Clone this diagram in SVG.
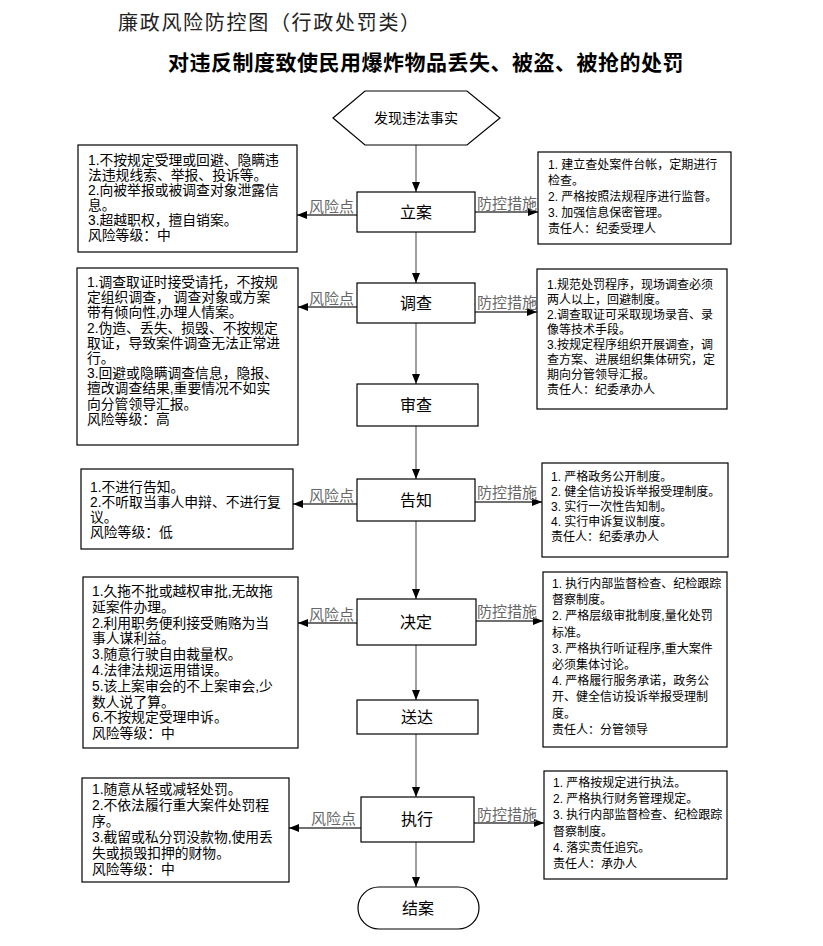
<svg xmlns="http://www.w3.org/2000/svg" width="823" height="946" viewBox="0 0 823 946">
<style>
text{font-family:"Noto Sans CJK SC","Liberation Sans",sans-serif;}
.t1{font-size:20px;fill:#222;letter-spacing:1.7px;}
.t2{font-size:21px;font-weight:bold;fill:#000;letter-spacing:0.5px;}
.lb{font-family:"Liberation Sans","Noto Sans CJK SC",sans-serif;font-size:13.8px;fill:#000;}
.rb{font-family:"Liberation Sans","Noto Sans CJK SC",sans-serif;font-size:12px;fill:#000;}
.nd{font-size:16px;fill:#000;text-anchor:middle;}
.lab{font-family:"Liberation Sans","Noto Sans CJK SC",sans-serif;font-size:15px;fill:#666;}
.box{fill:#fff;stroke:#000;stroke-width:1.2;}
.v{stroke:#7f7f7f;stroke-width:1.5;fill:none;}
.h{stroke:#404040;stroke-width:1.5;fill:none;}
</style>
<defs>
<marker id="ar" markerUnits="userSpaceOnUse" markerWidth="10" markerHeight="8" refX="10" refY="4" orient="auto">
<path d="M0,0 L10,4 L0,8 z" fill="#000"/>
</marker>
</defs>
<rect width="823" height="946" fill="#fff"/>
<text class="t1" x="118" y="30">廉政风险防控图（行政处罚类）</text>
<text class="t2" x="168" y="70">对违反制度致使民用爆炸物品丢失、被盗、被抢的处罚</text>

<g id="connectors">
<line class="v" x1="416" y1="145" x2="416" y2="192" marker-end="url(#ar)"/>
<line class="v" x1="416" y1="232" x2="416" y2="283" marker-end="url(#ar)"/>
<line class="v" x1="416" y1="323" x2="416" y2="384" marker-end="url(#ar)"/>
<line class="v" x1="416" y1="426" x2="416" y2="479" marker-end="url(#ar)"/>
<line class="v" x1="416" y1="521" x2="416" y2="599" marker-end="url(#ar)"/>
<line class="v" x1="416" y1="645" x2="416" y2="700" marker-end="url(#ar)"/>
<line class="v" x1="416" y1="734" x2="416" y2="797" marker-end="url(#ar)"/>
<line class="v" x1="416" y1="842" x2="416" y2="887" marker-end="url(#ar)"/>

<line class="h" x1="357" y1="215" x2="297" y2="215" marker-end="url(#ar)"/>
<text class="lab" x="309" y="212">风险点</text>
<line class="h" x1="475" y1="212" x2="538" y2="212" marker-end="url(#ar)"/>
<text class="lab" x="477" y="209">防控措施</text>

<line class="h" x1="357" y1="307" x2="298" y2="307" marker-end="url(#ar)"/>
<text class="lab" x="309" y="304">风险点</text>
<line class="h" x1="475" y1="312" x2="537" y2="312" marker-end="url(#ar)"/>
<text class="lab" x="477" y="308">防控措施</text>

<line class="h" x1="357" y1="504" x2="293" y2="504" marker-end="url(#ar)"/>
<text class="lab" x="309" y="501">风险点</text>
<line class="h" x1="475" y1="502" x2="542" y2="502" marker-end="url(#ar)"/>
<text class="lab" x="477" y="498">防控措施</text>

<line class="h" x1="357" y1="623" x2="298" y2="623" marker-end="url(#ar)"/>
<text class="lab" x="309" y="620">风险点</text>
<line class="h" x1="476" y1="621" x2="543" y2="621" marker-end="url(#ar)"/>
<text class="lab" x="477" y="617">防控措施</text>

<line class="h" x1="361" y1="828" x2="289" y2="828" marker-end="url(#ar)"/>
<text class="lab" x="311" y="824">风险点</text>
<line class="h" x1="474" y1="823" x2="544" y2="823" marker-end="url(#ar)"/>
<text class="lab" x="477" y="820">防控措施</text>
</g>

<g id="start">
<polygon class="box" points="333,118 365,91 467,91 500,118 467,145 365,145"/>
<text class="nd" x="416" y="123" style="font-size:14px">发现违法事实</text>
</g>
<g id="lian">
<rect class="box" x="357" y="192" width="118" height="40"/>
<text class="nd" x="416" y="218">立案</text>
</g>
<g id="diaocha">
<rect class="box" x="357" y="283" width="118" height="40"/>
<text class="nd" x="416" y="309">调查</text>
</g>
<g id="shencha">
<rect class="box" x="357" y="384" width="121" height="42"/>
<text class="nd" x="416" y="411">审查</text>
</g>
<g id="gaozhi">
<rect class="box" x="357" y="479" width="118" height="42"/>
<text class="nd" x="416" y="506">告知</text>
</g>
<g id="jueding">
<rect class="box" x="357" y="599" width="119" height="46"/>
<text class="nd" x="416" y="628">决定</text>
</g>
<g id="songda">
<rect class="box" x="357" y="700" width="121" height="34"/>
<text class="nd" x="417" y="723">送达</text>
</g>
<g id="zhixing">
<rect class="box" x="361" y="797" width="113" height="45"/>
<text class="nd" x="417" y="825">执行</text>
</g>
<g id="jiean">
<rect class="box" x="358" y="887" width="121" height="42" rx="21" ry="21"/>
<text class="nd" x="418" y="914">结案</text>
</g>

<g id="risk-lian">
<rect class="box" x="78" y="145" width="219" height="107"/>
<text class="lb">
<tspan x="88" y="165">1.不按规定受理或回避、隐瞒违</tspan>
<tspan x="88" y="180">法违规线索、举报、投诉等。</tspan>
<tspan x="88" y="195">2.向被举报或被调查对象泄露信</tspan>
<tspan x="88" y="210">息。</tspan>
<tspan x="88" y="225">3.超越职权，擅自销案。</tspan>
<tspan x="88" y="240">风险等级：中</tspan>
</text>
</g>
<g id="ctrl-lian">
<rect class="box" x="538" y="152" width="193" height="92"/>
<text class="rb">
<tspan x="548" y="169">1. 建立查处案件台帐，定期进行</tspan>
<tspan x="548" y="185">检查。</tspan>
<tspan x="548" y="201">2. 严格按照法规程序进行监督。</tspan>
<tspan x="548" y="217">3. 加强信息保密管理。</tspan>
<tspan x="548" y="233">责任人：纪委受理人</tspan>
</text>
</g>

<g id="risk-diaocha">
<rect class="box" x="77" y="268" width="221" height="177"/>
<text class="lb">
<tspan x="87" y="287">1.调查取证时接受请托，不按规</tspan>
<tspan x="87" y="302">定组织调查， 调查对象或方案</tspan>
<tspan x="87" y="317">带有倾向性,办理人情案。</tspan>
<tspan x="87" y="333">2.伪造、丢失、损毁、不按规定</tspan>
<tspan x="87" y="348">取证，导致案件调查无法正常进</tspan>
<tspan x="87" y="363">行。</tspan>
<tspan x="87" y="378">3.回避或隐瞒调查信息，隐报、</tspan>
<tspan x="87" y="393">擅改调查结果,重要情况不如实</tspan>
<tspan x="87" y="409">向分管领导汇报。</tspan>
<tspan x="87" y="424">风险等级：高</tspan>
</text>
</g>
<g id="ctrl-diaocha">
<rect class="box" x="537" y="269" width="190" height="140"/>
<text class="rb">
<tspan x="547" y="289">1.规范处罚程序，现场调查必须</tspan>
<tspan x="547" y="304">两人以上，回避制度。</tspan>
<tspan x="547" y="319">2.调查取证可采取现场录音、录</tspan>
<tspan x="547" y="334">像等技术手段。</tspan>
<tspan x="547" y="349">3.按规定程序组织开展调查，调</tspan>
<tspan x="547" y="364">查方案、进展组织集体研究，定</tspan>
<tspan x="547" y="379">期向分管领导汇报。</tspan>
<tspan x="547" y="394">责任人：纪委承办人</tspan>
</text>
</g>

<g id="risk-gaozhi">
<rect class="box" x="81" y="469" width="212" height="80"/>
<text class="lb">
<tspan x="90" y="492">1.不进行告知。</tspan>
<tspan x="90" y="507">2.不听取当事人申辩、不进行复</tspan>
<tspan x="90" y="522">议。</tspan>
<tspan x="90" y="537">风险等级：低</tspan>
</text>
</g>
<g id="ctrl-gaozhi">
<rect class="box" x="542" y="463" width="186" height="94"/>
<text class="rb">
<tspan x="551" y="481">1. 严格政务公开制度。</tspan>
<tspan x="551" y="496">2. 健全信访投诉举报受理制度。</tspan>
<tspan x="551" y="511">3. 实行一次性告知制。</tspan>
<tspan x="551" y="526">4. 实行申诉复议制度。</tspan>
<tspan x="551" y="541">责任人：纪委承办人</tspan>
</text>
</g>

<g id="risk-jueding">
<rect class="box" x="83" y="577" width="215" height="171"/>
<text class="lb">
<tspan x="92" y="596">1.久拖不批或越权审批,无故拖</tspan>
<tspan x="92" y="612">延案件办理。</tspan>
<tspan x="92" y="628">2.利用职务便利接受贿赂为当</tspan>
<tspan x="92" y="643">事人谋利益。</tspan>
<tspan x="92" y="659">3.随意行驶自由裁量权。</tspan>
<tspan x="92" y="675">4.法律法规运用错误。</tspan>
<tspan x="92" y="691">5.该上案审会的不上案审会,少</tspan>
<tspan x="92" y="707">数人说了算。</tspan>
<tspan x="92" y="722">6.不按规定受理申诉。</tspan>
<tspan x="92" y="738">风险等级：中</tspan>
</text>
</g>
<g id="ctrl-jueding">
<rect class="box" x="543" y="572" width="184" height="175"/>
<text class="rb">
<tspan x="552" y="588">1. 执行内部监督检查、纪检跟踪</tspan>
<tspan x="552" y="604">督察制度。</tspan>
<tspan x="552" y="620">2. 严格层级审批制度,量化处罚</tspan>
<tspan x="552" y="637">标准。</tspan>
<tspan x="552" y="653">3. 严格执行听证程序,重大案件</tspan>
<tspan x="552" y="669">必须集体讨论。</tspan>
<tspan x="552" y="685">4. 严格履行服务承诺，政务公</tspan>
<tspan x="552" y="701">开、健全信访投诉举报受理制</tspan>
<tspan x="552" y="718">度。</tspan>
<tspan x="552" y="734">责任人：分管领导</tspan>
</text>
</g>

<g id="risk-zhixing">
<rect class="box" x="82" y="778" width="207" height="104"/>
<text class="lb">
<tspan x="92" y="794">1.随意从轻或减轻处罚。</tspan>
<tspan x="92" y="810">2.不依法履行重大案件处罚程</tspan>
<tspan x="92" y="826">序。</tspan>
<tspan x="92" y="842">3.截留或私分罚没款物,使用丢</tspan>
<tspan x="92" y="858">失或损毁扣押的财物。</tspan>
<tspan x="92" y="874">风险等级：中</tspan>
</text>
</g>
<g id="ctrl-zhixing">
<rect class="box" x="544" y="771" width="183" height="108"/>
<text class="rb">
<tspan x="553" y="787">1. 严格按规定进行执法。</tspan>
<tspan x="553" y="803">2. 严格执行财务管理规定。</tspan>
<tspan x="553" y="819">3. 执行内部监督检查、纪检跟踪</tspan>
<tspan x="553" y="836">督察制度。</tspan>
<tspan x="553" y="852">4. 落实责任追究。</tspan>
<tspan x="553" y="868">责任人：承办人</tspan>
</text>
</g>
</svg>
